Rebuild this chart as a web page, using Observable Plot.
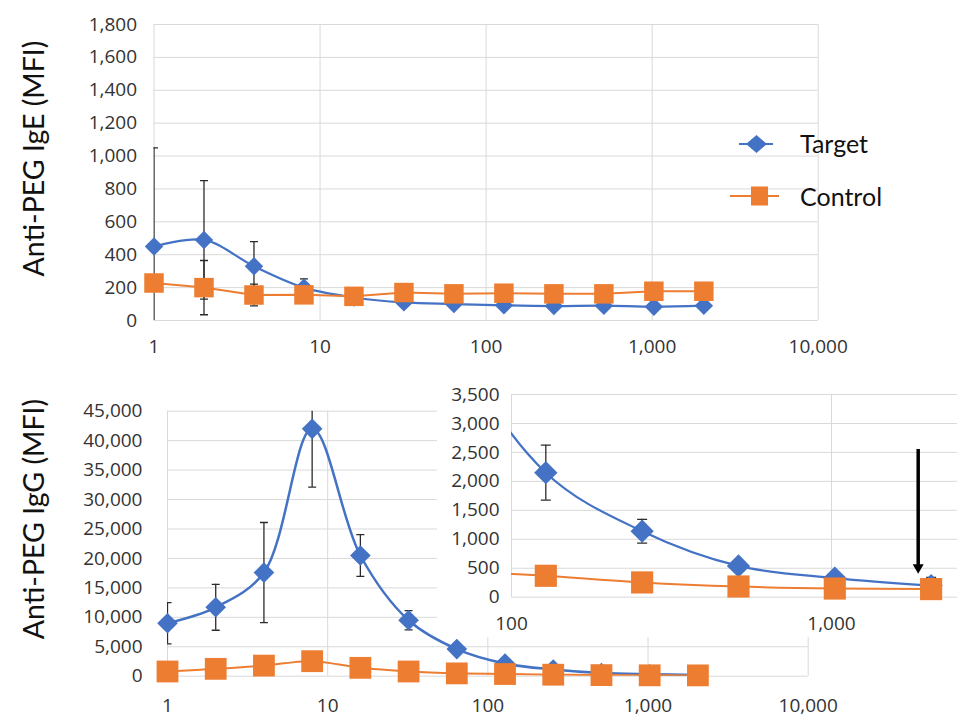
<!DOCTYPE html>
<html>
<head>
<meta charset="utf-8">
<script src="https://cdn.jsdelivr.net/npm/d3@7"></script>
<script src="https://cdn.jsdelivr.net/npm/@observablehq/plot@0.6"></script>
<style>
html, body { margin: 0; padding: 0; background: #fff; }
#wrap { position: relative; width: 957px; height: 717px; overflow: hidden; background: #fff; }
</style>
</head>
<body>
<div id="wrap"></div>
<script>
// ---------- data ----------
const dilution = [1, 2, 4, 8, 16, 32, 64, 128, 256, 512, 1024, 2048];
const seriesNames = ["Target", "Control"];
const yTitles = ["Anti-PEG IgE (MFI)", "Anti-PEG IgG (MFI)"];

const igeTarget     = [450, 490, 330, 200, 140, 110, 100, 92, 88, 90, 84, 90];
const igeTargetErr  = [600, 360, 150, 53, 0, 0, 0, 0, 0, 0, 0, 0];
const igeControl    = [228, 200, 155, 156, 147, 170, 162, 166, 162, 162, 178, 178];
const igeControlErr = [0, 165, 66, 0, 0, 0, 0, 0, 0, 0, 0, 0];

const iggTarget     = [9000, 11700, 17600, 42000, 20500, 9500, 4600, 2150, 1140, 540, 330, 200];
const iggTargetErr  = [3500, 3900, 8500, 9900, 3550, 1650, 0, 475, 205, 0, 0, 140];
const iggControl    = [800, 1250, 1800, 2550, 1420, 800, 480, 370, 255, 185, 150, 140];
const iggControlErr = [0, 0, 0, 0, 0, 0, 0, 0, 0, 0, 0, 0];

const xTicks      = [1, 10, 100, 1000, 10000];
const igeYTicks   = [0, 200, 400, 600, 800, 1000, 1200, 1400, 1600, 1800];
const iggYTicks   = [0, 5000, 10000, 15000, 20000, 25000, 30000, 35000, 40000, 45000];
const insetXTicks = [100, 1000];
const insetYTicks = [0, 500, 1000, 1500, 2000, 2500, 3000, 3500];

const arrowX = [1866];
const arrowFrom = [2550];
const arrowTo = [404];

// ---------- styling ----------
const BLUE = "#4472C4", ORANGE = "#ED7D31", GRID = "#d9d9d9", INK = "#2b2b2b";
const TICKFONT = "'Open Sans', sans-serif";
const TITLEFONT = "Lato, 'Open Sans', sans-serif";
const fmt = d3.format(",");

const igeRows = dilution.map((x, i) => ({x, target: igeTarget[i], tErr: igeTargetErr[i], control: igeControl[i], cErr: igeControlErr[i]}));
const iggRows = dilution.map((x, i) => ({x, target: iggTarget[i], tErr: iggTargetErr[i], control: iggControl[i], cErr: iggControlErr[i]}));
const arrowRows = arrowX.map((x, i) => ({x, from: arrowFrom[i], to: arrowTo[i]}));

const capSymbol = w => ({draw(ctx) { ctx.moveTo(-w, 0); ctx.lineTo(w, 0); }});

function seriesMarks(rows, o) {
  const marks = [];
  for (const [key, errKey] of [["target", "tErr"], ["control", "cErr"]]) {
    const e = rows.filter(r => r[errKey] > 0);
    marks.push(Plot.ruleX(e, {x: "x", y1: r => r[key] - r[errKey], y2: r => r[key] + r[errKey], stroke: INK, strokeWidth: 1.3, clip: true}));
    for (const s of [1, -1]) {
      marks.push(Plot.dot(e, {x: "x", y: r => r[key] + s * r[errKey], symbol: capSymbol(o.cap), stroke: INK, strokeWidth: 1.3, fill: "none", clip: true}));
    }
  }
  const dotRows = rows.filter(o.dotFilter || (() => true));
  marks.push(Plot.line(rows, {x: "x", y: "target", stroke: BLUE, strokeWidth: o.lw, curve: "catmull-rom", clip: true}));
  marks.push(Plot.dot(dotRows, {x: "x", y: "target", symbol: "diamond2", fill: BLUE, r: o.rd}));
  marks.push(Plot.line(rows, {x: "x", y: "control", stroke: ORANGE, strokeWidth: o.lwc, curve: o.ccurve, clip: true}));
  marks.push(Plot.dot(dotRows, {x: "x", y: "control", symbol: "square", fill: ORANGE, r: o.rs}));
  return marks;
}

function place(el, left, topPx) {
  Object.assign(el.style, {position: "absolute", left: left + "px", top: topPx + "px", maxWidth: "none"});
  document.getElementById("wrap").appendChild(el);
}

// ---------- top panel: IgE ----------
const igePlot = Plot.plot({
  width: 957, height: 360,
  marginLeft: 153.5, marginRight: 139.3, marginTop: 24, marginBottom: 40,
  x: {type: "log", domain: [1, 10000], label: null},
  y: {domain: [0, 1800], label: null},
  style: {fontFamily: TICKFONT, fontSize: "19px", color: "#333", background: "transparent"},
  marks: [
    Plot.gridX(xTicks, {stroke: GRID, strokeOpacity: 1}),
    Plot.gridY(igeYTicks, {stroke: GRID, strokeOpacity: 1}),
    Plot.axisX(xTicks, {tickSize: 0, tickPadding: 19, tickFormat: fmt, label: null}),
    Plot.axisY(igeYTicks, {tickSize: 0, tickPadding: 17, tickFormat: fmt, label: null}),
    ...seriesMarks(igeRows, {cap: 4, lw: 2.2, lwc: 2, rd: 8.3, rs: 11, ccurve: "linear"}),
    Plot.text([yTitles[0]], {frameAnchor: "left", text: d => d, rotate: -90, textAnchor: "middle", lineAnchor: "middle", dx: -119.5, dy: -14, fontSize: 28.5, fontFamily: TITLEFONT, fill: "#111"})
  ]
});
place(igePlot, 0, 0);

// ---------- bottom panel: IgG ----------
const iggPlot = Plot.plot({
  width: 957, height: 347,
  marginLeft: 167, marginRight: 149.3, marginTop: 40.7, marginBottom: 41.3,
  x: {type: "log", domain: [1, 10000], label: null},
  y: {domain: [0, 45000], label: null},
  style: {fontFamily: TICKFONT, fontSize: "19px", color: "#333", background: "transparent"},
  marks: [
    Plot.gridX(xTicks, {stroke: GRID, strokeOpacity: 1}),
    Plot.gridY(iggYTicks, {stroke: GRID, strokeOpacity: 1}),
    Plot.axisX(xTicks, {tickSize: 0, tickPadding: 22, tickFormat: fmt, label: null}),
    Plot.axisY(iggYTicks, {tickSize: 0, tickPadding: 25, tickFormat: fmt, label: null}),
    ...seriesMarks(iggRows, {cap: 4, lw: 2.5, lwc: 2, rd: 9.3, rs: 12.3, ccurve: "catmull-rom"}),
    Plot.text([yTitles[1]], {frameAnchor: "left", text: d => d, rotate: -90, textAnchor: "middle", lineAnchor: "middle", dx: -133, dy: -24.7, fontSize: 28.5, fontFamily: TITLEFONT, fill: "#111"})
  ]
});
place(iggPlot, 0, 370);

// ---------- inset: IgG zoom ----------
const insetPlot = Plot.plot({
  width: 520, height: 259,
  marginLeft: 74, marginRight: 0, marginTop: 16, marginBottom: 40.3,
  x: {type: "log", domain: [100, 1000], range: [74, 394], label: null},
  y: {domain: [0, 3500], label: null},
  style: {fontFamily: TICKFONT, fontSize: "19px", color: "#333", background: "#fff"},
  marks: [
    Plot.gridX(insetXTicks, {stroke: GRID, strokeOpacity: 1}),
    Plot.gridY(insetYTicks, {stroke: GRID, strokeOpacity: 1}),
    Plot.axisX(insetXTicks, {tickSize: 0, tickPadding: 19, tickFormat: fmt, label: null}),
    Plot.axisY(insetYTicks, {tickSize: 0, tickPadding: 12, tickFormat: fmt, label: null}),
    ...seriesMarks(iggRows, {cap: 5, lw: 2.2, lwc: 2, rd: 10.5, rs: 12.5, ccurve: "catmull-rom", dotFilter: r => r.x >= 100}),
    Plot.ruleX(arrowRows, {x: "x", y1: "from", y2: "to", stroke: "#000", strokeWidth: 3.5, insetBottom: 6}),
    Plot.dot(arrowRows, {x: "x", y: "to", symbol: "triangle", rotate: 180, fill: "#000", r: 4.1, dy: -6.35})
  ]
});
place(insetPlot, 437, 378);

// ---------- legend (top panel) ----------
const ns = "http://www.w3.org/2000/svg";
const leg = document.createElementNS(ns, "svg");
leg.setAttribute("width", 180); leg.setAttribute("height", 100);
const mk = (tag, attrs, text) => {
  const e = document.createElementNS(ns, tag);
  for (const k in attrs) e.setAttribute(k, attrs[k]);
  if (text) e.textContent = text;
  leg.appendChild(e);
};
mk("line", {x1: 19, x2: 53, y1: 24, y2: 24, stroke: BLUE, "stroke-width": 2.2});
mk("path", {d: "M36.5,15 L47,24 L36.5,33 L26,24 Z", fill: BLUE});
mk("line", {x1: 10, x2: 59, y1: 76, y2: 76, stroke: ORANGE, "stroke-width": 2});
mk("rect", {x: 31, y: 66.5, width: 17, height: 19, fill: ORANGE});
mk("text", {x: 80, y: 33.3, "font-family": "Lato, sans-serif", "font-size": 25, fill: "#111"}, seriesNames[0]);
mk("text", {x: 80, y: 86, "font-family": "Lato, sans-serif", "font-size": 25, fill: "#111"}, seriesNames[1]);
place(leg, 720, 120);
</script>
</body>
</html>
